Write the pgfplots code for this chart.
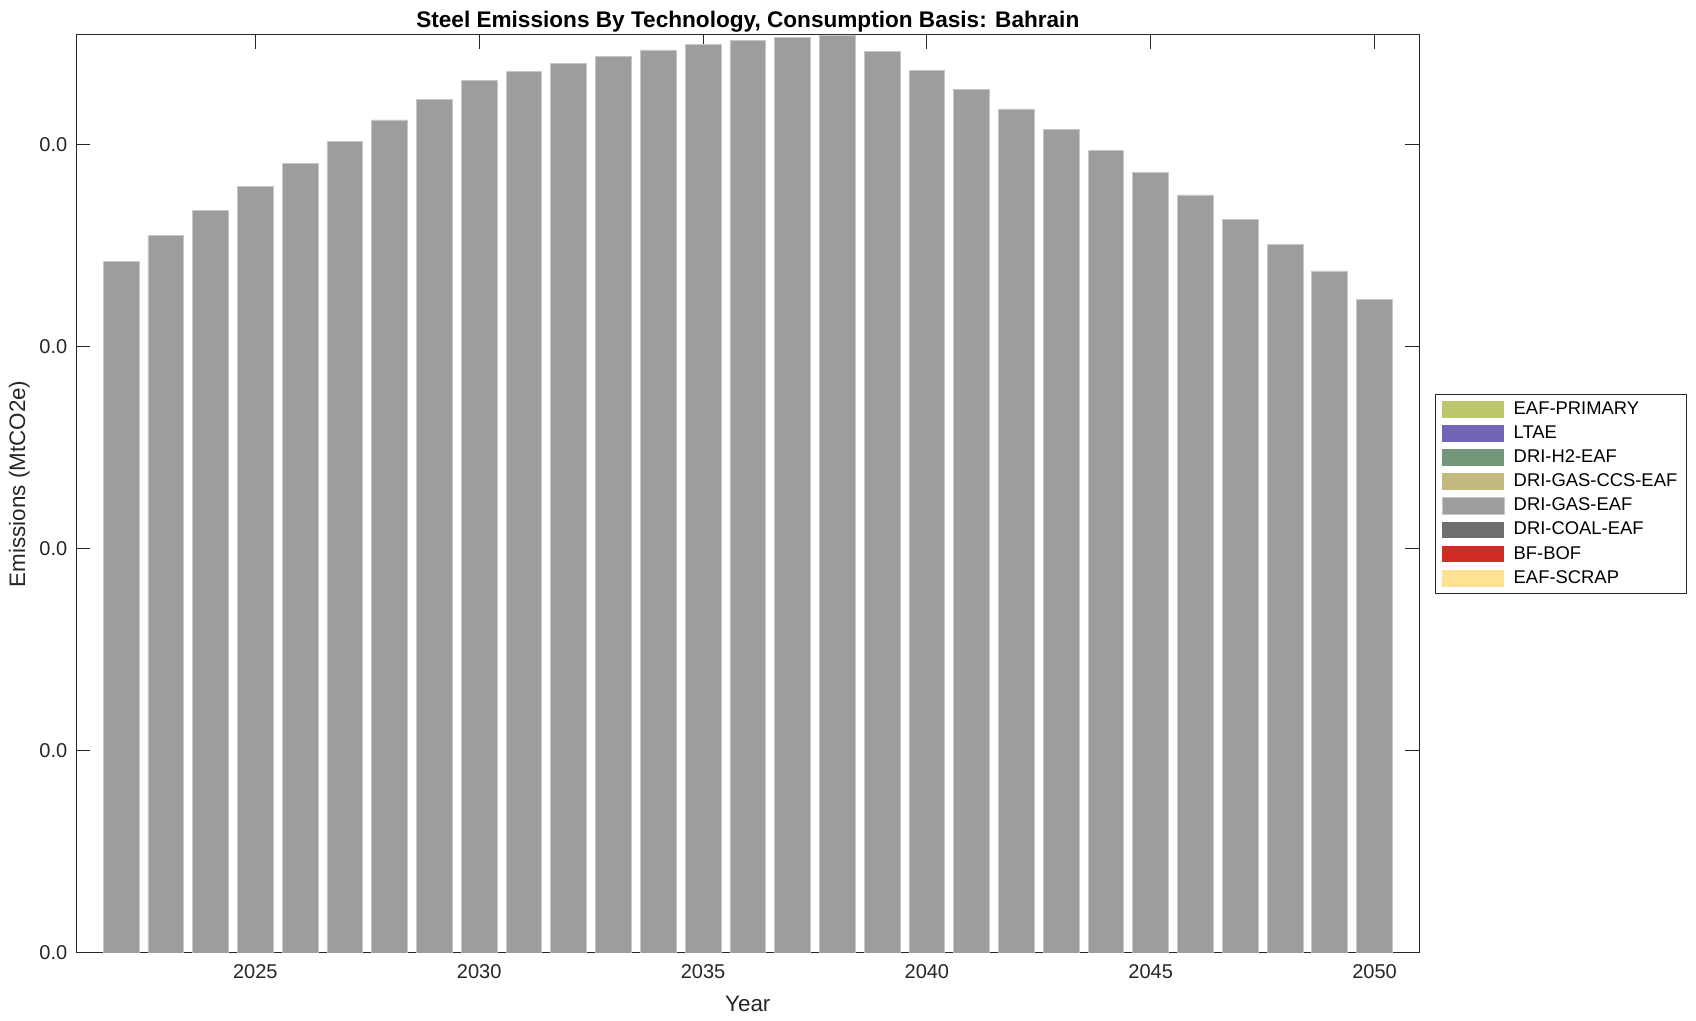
\documentclass[border=0pt]{standalone}
\usepackage{fontspec}
\setmainfont{Liberation Sans}
\usepackage{pgfplots}
\pgfplotsset{compat=1.18}
\usepackage{pgfplotstable}
\definecolor{cEAFP}{HTML}{BDC66B}
\definecolor{cLTAE}{HTML}{7165B5}
\definecolor{cHTWO}{HTML}{72977A}
\definecolor{cCCS}{HTML}{C4BA7D}
\definecolor{cGAS}{HTML}{9D9D9C}
\definecolor{cCOAL}{HTML}{6E6E6E}
\definecolor{cBF}{HTML}{D22B25}
\definecolor{cSCRAP}{HTML}{FDE293}
\definecolor{axcol}{HTML}{262626}
\pgfplotstableread{
year eafp ltae htwo ccs gas coal bfbof scrap
2022 0 0 0 0 0.03421 0 0 0
2023 0 0 0 0 0.03548 0 0 0
2024 0 0 0 0 0.03670 0 0 0
2025 0 0 0 0 0.03790 0 0 0
2026 0 0 0 0 0.03906 0 0 0
2027 0 0 0 0 0.04014 0 0 0
2028 0 0 0 0 0.04120 0 0 0
2029 0 0 0 0 0.04220 0 0 0
2030 0 0 0 0 0.04316 0 0 0
2031 0 0 0 0 0.04359 0 0 0
2032 0 0 0 0 0.04400 0 0 0
2033 0 0 0 0 0.04435 0 0 0
2034 0 0 0 0 0.04466 0 0 0
2035 0 0 0 0 0.04492 0 0 0
2036 0 0 0 0 0.04512 0 0 0
2037 0 0 0 0 0.04527 0 0 0
2038 0 0 0 0 0.04540 0 0 0
2039 0 0 0 0 0.04457 0 0 0
2040 0 0 0 0 0.04365 0 0 0
2041 0 0 0 0 0.04272 0 0 0
2042 0 0 0 0 0.04174 0 0 0
2043 0 0 0 0 0.04075 0 0 0
2044 0 0 0 0 0.03970 0 0 0
2045 0 0 0 0 0.03861 0 0 0
2046 0 0 0 0 0.03749 0 0 0
2047 0 0 0 0 0.03629 0 0 0
2048 0 0 0 0 0.03505 0 0 0
2049 0 0 0 0 0.03373 0 0 0
2050 0 0 0 0 0.03233 0 0 0
}\datatable
\begin{document}
\begin{tikzpicture}
\path[use as bounding box] (-38.15pt,-34pt) rectangle (809.85pt,476.5pt);
\begin{axis}[
  at={(0pt,0pt)}, anchor=south west,
  scale only axis, width=671.5pt, height=459pt,
  ybar stacked, bar width=0.8,
  xmin=2021, xmax=2051, ymin=0, ymax=0.0454,
  scaled y ticks=false, scaled x ticks=false,
  xtick={2025,2030,2035,2040,2045,2050},
  xticklabels={2025,2030,2035,2040,2045,2050},
  ytick={0,0.01,0.02,0.03,0.04},
  yticklabels={0.0,0.0,0.0,0.0,0.0},
  tick align=inside, tick pos=both, major tick length=7pt,
  axis line style={axcol, line width=0.5pt},
  every tick/.style={axcol, line width=0.5pt},
  tick label style={font=\fontsize{10}{12}\selectfont, text=axcol},
  xticklabel style={yshift=-2pt},
  yticklabel style={xshift=-1pt},
  xlabel={Year}, ylabel={Emissions (MtCO2e)},
  label style={font=\fontsize{11.2}{13}\selectfont, text=axcol},
  xlabel style={yshift=-2pt},
  ylabel style={at={(ticklabel cs:0.511)}, anchor=near ticklabel, yshift=-2pt},
  title={Steel Emissions By Technology, Consumption Basis: Bahrain},
  title style={font=\bfseries\fontsize{11.3}{13}\selectfont, yshift=-8pt},
  legend style={at={(1.012,0.5)}, anchor=west, draw=axcol, line width=0.5pt,
    font=\fontsize{9.2}{11}\selectfont, row sep=0.15pt, inner xsep=3pt, inner ysep=1.5pt,
    cells={anchor=west}, nodes={inner xsep=1.5pt}},
  legend image code/.code={\fill[#1] (0pt,-4.15pt) rectangle (31pt,4.15pt); \path (34pt,0pt);},
  legend cell align=left,
]
\addplot[fill=cEAFP, draw=none] table[x=year,y=eafp] {\datatable};
\addlegendentry{EAF-PRIMARY}
\addplot[fill=cLTAE, draw=none] table[x=year,y=ltae] {\datatable};
\addlegendentry{LTAE}
\addplot[fill=cHTWO, draw=none] table[x=year,y=htwo] {\datatable};
\addlegendentry{DRI-H2-EAF}
\addplot[fill=cCCS, draw=none] table[x=year,y=ccs] {\datatable};
\addlegendentry{DRI-GAS-CCS-EAF}
\addplot[fill=cGAS, draw=black!22, line width=0.4pt] table[x=year,y=gas] {\datatable};
\addlegendentry{DRI-GAS-EAF}
\addplot[fill=cCOAL, draw=none] table[x=year,y=coal] {\datatable};
\addlegendentry{DRI-COAL-EAF}
\addplot[fill=cBF, draw=none] table[x=year,y=bfbof] {\datatable};
\addlegendentry{BF-BOF}
\addplot[fill=cSCRAP, draw=none] table[x=year,y=scrap] {\datatable};
\addlegendentry{EAF-SCRAP}
\end{axis}
\end{tikzpicture}
\end{document}
